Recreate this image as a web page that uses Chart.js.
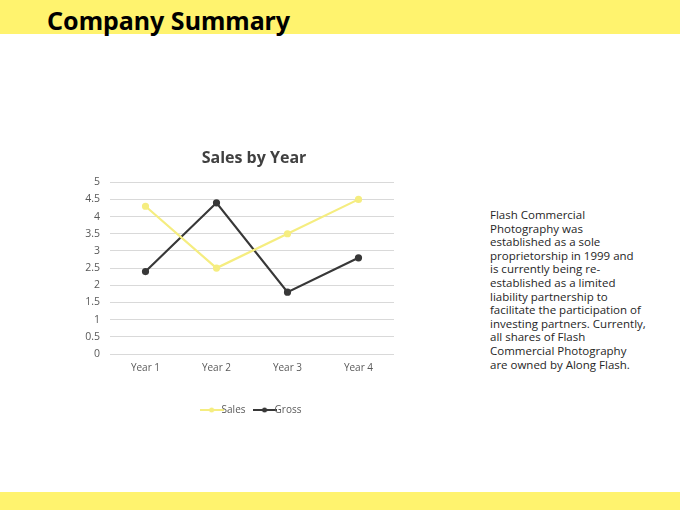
<!DOCTYPE html>
<html>
<head>
<meta charset="utf-8">
<script src="https://cdn.jsdelivr.net/npm/chart.js@4/dist/chart.umd.min.js"></script>
<style>
    body { margin: 0; width: 680px; height: 510px; background: #fff; position: relative; overflow: hidden; font-family: "Open Sans", "Noto Sans", sans-serif; }
    .top-bar { position: absolute; left: 0; top: 0; width: 680px; height: 34px; background: #fff36e; }
    .top-bar h1 { margin: 0; position: absolute; left: 47px; top: 3px; font-size: 25px; font-weight: bold; color: #000; font-family: "Noto Sans", sans-serif; }
    .bottom-bar { position: absolute; left: 0; top: 492px; width: 680px; height: 18px; background: #fff36e; }
    .chart-box { position: absolute; left: 60px; top: 143px; width: 388px; height: 282px; }
    .side-text { position: absolute; left: 490px; top: 208px; font-size: 11.5px; line-height: 13.6px; color: #262626; font-family: "Open Sans", sans-serif; }
</style>
</head>
<body>
<div class="top-bar"><h1>Company Summary</h1></div>
<div class="chart-box"><canvas id="salesChart"></canvas></div>
<div class="side-text">
    Flash Commercial<br>
    Photography was<br>
    established as a sole<br>
    proprietorship in 1999 and<br>
    is currently being re-<br>
    established as a limited<br>
    liability partnership to<br>
    facilitate the participation of<br>
    investing partners. Currently,<br>
    all shares of Flash<br>
    Commercial Photography<br>
    are owned by Along Flash.
</div>
<div class="bottom-bar"></div>
<script>
// dados do gráfico
const years = ['Year 1', 'Year 2', 'Year 3', 'Year 4'];
const salesValues = [4.3, 2.5, 3.5, 4.5];
const grossValues = [2.4, 4.4, 1.8, 2.8];
const yTicks = [0, 0.5, 1, 1.5, 2, 2.5, 3, 3.5, 4, 4.5, 5];

const salesColor = '#f5ed80';
const grossColor = '#383838';

// ícone da legenda: linha com ponto no meio
function legendIcon(color) {
    const c = document.createElement('canvas');
    c.width = 24;
    c.height = 8;
    const ctx = c.getContext('2d');
    ctx.strokeStyle = color;
    ctx.lineWidth = 2;
    ctx.beginPath();
    ctx.moveTo(0, 4);
    ctx.lineTo(24, 4);
    ctx.stroke();
    ctx.fillStyle = color;
    ctx.beginPath();
    ctx.arc(12, 4, 2.5, 0, Math.PI * 2);
    ctx.fill();
    return c;
}

document.addEventListener('DOMContentLoaded', function () {
    const canvas = document.getElementById('salesChart');

    new Chart(canvas, {
        type: 'line',
        data: {
            labels: years,
            datasets: [
                {
                    label: 'Sales',
                    data: salesValues,
                    borderColor: salesColor,
                    backgroundColor: salesColor,
                    borderWidth: 2.2,
                    pointRadius: 2.5,
                    pointStyle: 'circle',
                    tension: 0
                },
                {
                    label: 'Gross',
                    data: grossValues,
                    borderColor: grossColor,
                    backgroundColor: grossColor,
                    borderWidth: 2.2,
                    pointRadius: 2.5,
                    pointStyle: 'circle',
                    tension: 0
                }
            ]
        },
        options: {
            responsive: true,
            maintainAspectRatio: false,
            animation: false,
            layout: {
                padding: 0
            },
            scales: {
                x: {
                    offset: true,
                    grid: { display: false, drawTicks: false },
                    border: { display: false },
                    ticks: { color: '#595959', font: { size: 10, family: 'Open Sans' }, padding: 8 },
                    afterFit: function (scale) {
                        scale.height += 9;
                    }
                },
                y: {
                    min: 0,
                    max: 5,
                    afterBuildTicks: function (scale) {
                        scale.ticks = yTicks.map(v => ({ value: v }));
                    },
                    afterFit: function (scale) {
                        scale.width = 50;
                    },
                    grid: { color: '#d9d9d9', drawTicks: false },
                    border: { display: false },
                    ticks: {
                        color: '#595959',
                        font: { size: 10.5, family: 'Open Sans' },
                        padding: 10,
                        callback: function (value) {
                            return String(value);
                        }
                    }
                },
                // eixo vazio à direita só para equilibrar o espaço
                yRight: {
                    position: 'right',
                    min: 0,
                    max: 5,
                    grid: { display: false, drawTicks: false },
                    border: { display: false },
                    ticks: { display: false },
                    afterFit: function (scale) {
                        scale.width = 54;
                    }
                }
            },
            plugins: {
                title: {
                    display: true,
                    text: 'Sales by Year',
                    color: '#404040',
                    font: { size: 16, weight: 'bold', family: 'Open Sans' },
                    padding: { top: 6, bottom: 14 }
                },
                legend: {
                    display: true,
                    position: 'bottom',
                    labels: {
                        usePointStyle: true,
                        color: '#595959',
                        font: { size: 10, family: 'Open Sans' },
                        padding: 14,
                        generateLabels: function (chart) {
                            return chart.data.datasets.map((ds, i) => ({
                                text: ds.label,
                                fontColor: '#595959',
                                pointStyle: legendIcon(ds.borderColor),
                                datasetIndex: i,
                                hidden: false,
                                lineWidth: 0
                            }));
                        }
                    }
                },
                tooltip: { enabled: false }
            }
        }
    });
});
</script>
</body>
</html>
